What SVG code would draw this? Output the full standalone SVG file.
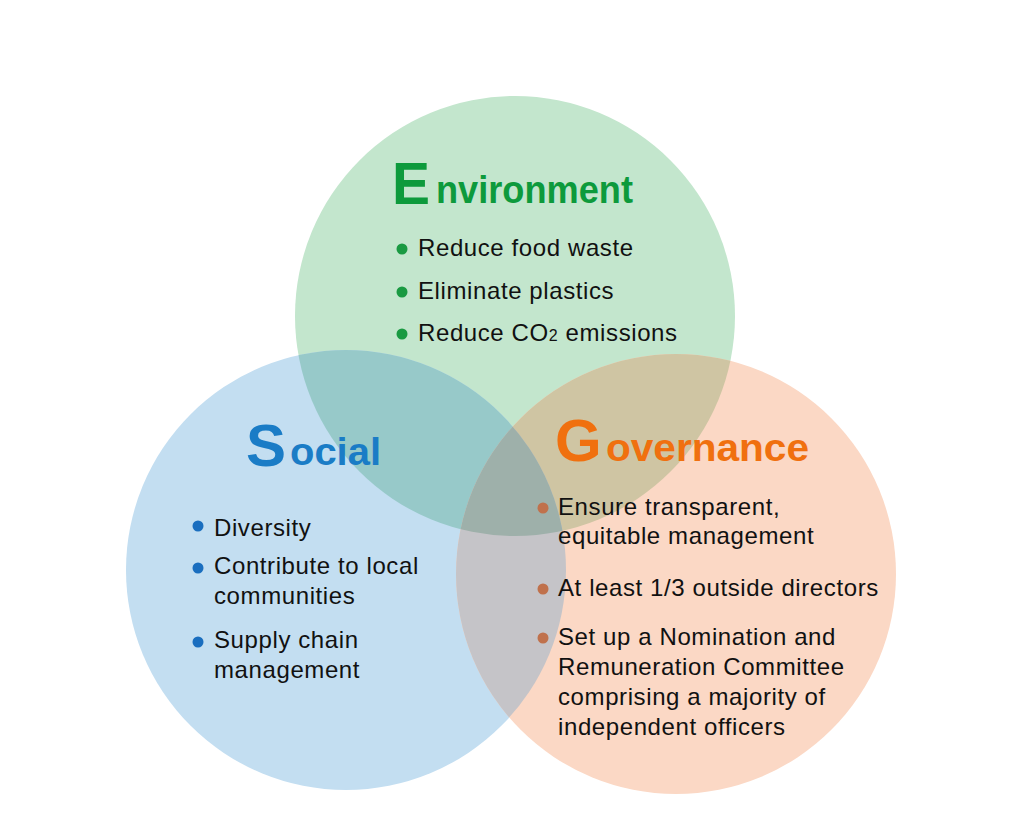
<svg xmlns="http://www.w3.org/2000/svg" width="1036" height="836" viewBox="0 0 1036 836">
<style>
.t{font-family:"Liberation Sans",Arial,Helvetica,sans-serif;font-size:24px;fill:#111;letter-spacing:0.6px}
.h{font-family:"Liberation Sans",Arial,Helvetica,sans-serif;font-weight:bold}
.big{font-size:60px}
.sm{font-size:38px}
.env{fill:#0d9a3c}
.soc{fill:#1a7cc6}
.gov{fill:#f0700f}
.de{fill:#1a9a42}
.ds{fill:#1a6ebf}
.dg{fill:#c0714c}
</style>
<defs>
<clipPath id="cE"><circle cx="515" cy="316" r="220"/></clipPath>
<clipPath id="cS"><circle cx="346" cy="570" r="220"/></clipPath>
<clipPath id="cG"><circle cx="676" cy="574" r="220"/></clipPath>
</defs>
<rect width="1036" height="836" fill="#fff"/>
<g id="circles">
<circle cx="515" cy="316" r="220" fill="#c3e6cd"/>
<circle cx="346" cy="570" r="220" fill="#c3def1"/>
<circle cx="676" cy="574" r="220" fill="#fbd8c5"/>
<g clip-path="url(#cE)"><circle cx="346" cy="570" r="220" fill="#97c9c9"/><circle cx="676" cy="574" r="220" fill="#cfc5a3"/></g>
<g clip-path="url(#cS)"><circle cx="676" cy="574" r="220" fill="#c5c4c8"/></g>
<g clip-path="url(#cE)"><g clip-path="url(#cS)"><circle cx="676" cy="574" r="220" fill="#9eb0aa"/></g></g>
</g>
<g id="environment">
<text class="h big env" x="392" y="204" textLength="38" lengthAdjust="spacingAndGlyphs">E</text>
<text class="h sm env" x="436" y="203" textLength="197" lengthAdjust="spacingAndGlyphs">nvironment</text>
<circle class="de" cx="402" cy="249" r="5.5"/>
<circle class="de" cx="402" cy="292" r="5.5"/>
<circle class="de" cx="402" cy="334" r="5.5"/>
<text class="t" x="418" y="256">Reduce food waste</text>
<text class="t" x="418" y="299">Eliminate plastics</text>
<text class="t" x="418" y="341" letter-spacing="0.45">Reduce CO<tspan font-size="16">2</tspan> emissions</text>
</g>
<g id="social">
<text class="h big soc" x="246" y="466">S</text>
<text class="h sm soc" x="290" y="465" textLength="91" lengthAdjust="spacingAndGlyphs">ocial</text>
<circle class="ds" cx="198" cy="526" r="5.5"/>
<circle class="ds" cx="198" cy="568" r="5.5"/>
<circle class="ds" cx="198" cy="642" r="5.5"/>
<text class="t" x="214" y="536">Diversity</text>
<text class="t" x="214" y="574">Contribute to local</text>
<text class="t" x="214" y="604">communities</text>
<text class="t" x="214" y="648">Supply chain</text>
<text class="t" x="214" y="678">management</text>
</g>
<g id="governance">
<text class="h big gov" x="555" y="461">G</text>
<text class="h sm gov" x="606" y="461" textLength="203" lengthAdjust="spacingAndGlyphs">overnance</text>
<circle class="dg" cx="543" cy="508" r="5.5"/>
<circle class="dg" cx="543" cy="589" r="5.5"/>
<circle class="dg" cx="543" cy="638" r="5.5"/>
<text class="t" x="558" y="515">Ensure transparent,</text>
<text class="t" x="558" y="544">equitable management</text>
<text class="t" x="558" y="596">At least 1/3 outside directors</text>
<text class="t" x="558" y="645">Set up a Nomination and</text>
<text class="t" x="558" y="675">Remuneration Committee</text>
<text class="t" x="558" y="705">comprising a majority of</text>
<text class="t" x="558" y="735">independent officers</text>
</g>
</svg>
